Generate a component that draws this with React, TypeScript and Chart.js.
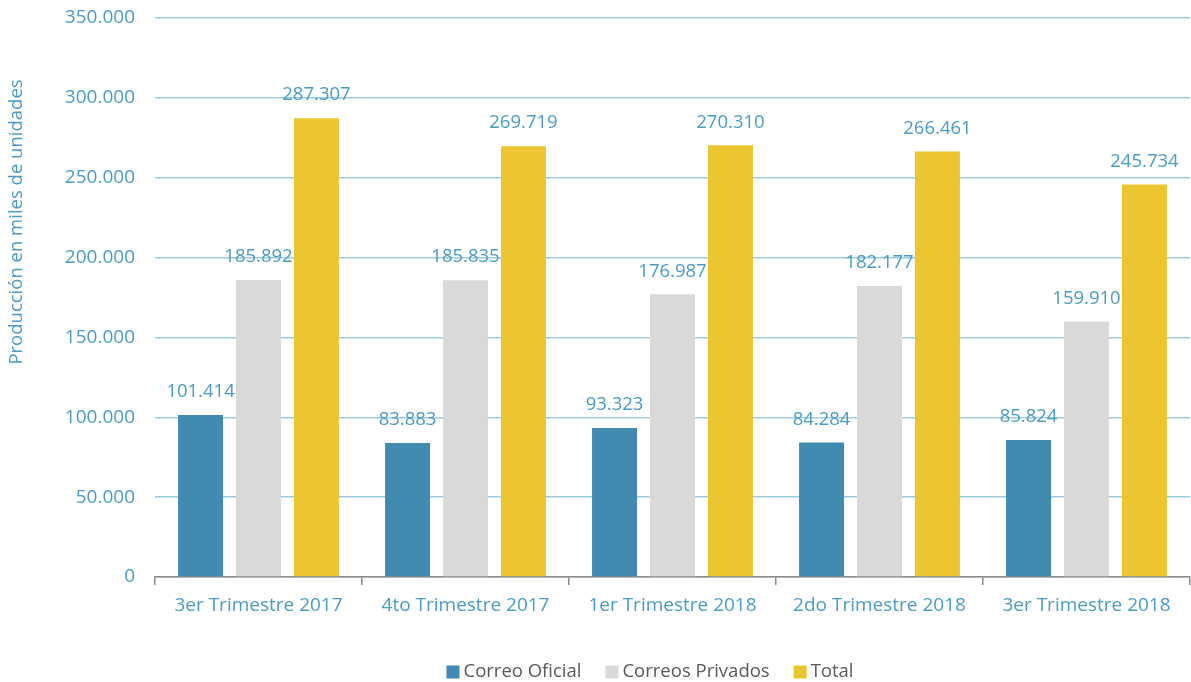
import React, { useEffect, useRef } from 'react';
import { Chart, registerables } from 'chart.js';
Chart.register(...registerables);

const categories = ['3er Trimestre 2017', '4to Trimestre 2017', '1er Trimestre 2018', '2do Trimestre 2018', '3er Trimestre 2018'];
const correoOficial = [101414, 83883, 93323, 84284, 85824];
const correosPrivados = [185892, 185835, 176987, 182177, 159910];
const total = [287307, 269719, 270310, 266461, 245734];
const seriesNames = ['Correo Oficial', 'Correos Privados', 'Total'];
const yTitle = 'Producción en miles de unidades';

const COLORS = ['#418AB0', '#D9D9D9', '#ECC630'];
const TEXT_BLUE = '#4A9CC4';
const FONT = '"Open Sans", sans-serif';

const fmt = (v: number) => String(Math.round(v)).replace(/\B(?=(\d{3})+(?!\d))/g, '.');

const labelsPlugin = {
  id: 'valueLabels',
  afterDatasetsDraw(chart: any) {
    const ctx = chart.ctx;
    ctx.save();
    ctx.font = `18.5px ${FONT}`;
    ctx.fillStyle = TEXT_BLUE;
    ctx.textAlign = 'center';
    ctx.textBaseline = 'middle';
    chart.data.datasets.forEach((ds: any, i: number) => {
      const meta = chart.getDatasetMeta(i);
      meta.data.forEach((el: any, j: number) => {
        ctx.fillText(fmt(ds.data[j]), el.x, el.y - 23);
      });
    });
    ctx.restore();
  },
};

const extrasPlugin = {
  id: 'extras',
  afterDraw(chart: any) {
    const ctx = chart.ctx;
    ctx.save();
    ctx.font = `18.5px ${FONT}`;
    ctx.fillStyle = TEXT_BLUE;
    ctx.textAlign = 'center';
    ctx.textBaseline = 'middle';
    ctx.translate(17, 222);
    ctx.rotate(-Math.PI / 2);
    ctx.fillText(yTitle, 0, 0);
    ctx.restore();

    ctx.save();
    ctx.font = `18.5px ${FONT}`;
    ctx.textBaseline = 'middle';
    ctx.textAlign = 'left';
    const box = 13, gapBox = 4, gapItem = 24;
    const widths = seriesNames.map((n) => box + gapBox + ctx.measureText(n).width);
    const totalW = widths.reduce((a, b) => a + b, 0) + gapItem * (seriesNames.length - 1);
    let x = 650 - totalW / 2;
    const y = 672;
    seriesNames.forEach((n, i) => {
      ctx.fillStyle = COLORS[i];
      ctx.fillRect(x, y - box / 2, box, box);
      ctx.fillStyle = '#595959';
      ctx.fillText(n, x + box + gapBox, y);
      x += widths[i] + gapItem;
    });
    ctx.restore();
  },
};

export default function App() {
  const ref = useRef<HTMLCanvasElement>(null);
  useEffect(() => {
    document.body.style.margin = '0';
    const series = [correoOficial, correosPrivados, total];
    const chart = new Chart(ref.current!, {
      type: 'bar',
      data: {
        labels: categories,
        datasets: series.map((d, i) => ({
          label: seriesNames[i],
          data: d,
          backgroundColor: COLORS[i],
          categoryPercentage: 0.84,
          barPercentage: 0.776,
        })),
      },
      options: {
        animation: false,
        responsive: true,
        maintainAspectRatio: false,
        layout: { padding: { top: 18, right: 1, left: 0, bottom: 0 } },
        plugins: { legend: { display: false }, tooltip: { enabled: false } },
        scales: {
          y: {
            min: 0,
            max: 350000,
            ticks: {
              stepSize: 50000,
              color: TEXT_BLUE,
              font: { family: FONT, size: 19 },
              padding: 0,
              callback: (v: any) => fmt(Number(v)),
            },
            grid: { color: '#9DCAE2', lineWidth: 1.5, drawTicks: true, tickLength: 20, tickColor: 'rgba(0,0,0,0)' },
            border: { display: false },
            afterFit: (s: any) => { s.width = 155; },
          },
          x: {
            ticks: { color: TEXT_BLUE, font: { family: FONT, size: 19 }, padding: 9 },
            grid: { drawOnChartArea: false, drawTicks: true, tickLength: 8, color: '#8C8C8C', lineWidth: 1.5 },
            border: { color: '#8C8C8C', width: 1.5 },
            afterFit: (s: any) => { s.height = 105; },
          },
        },
      },
      plugins: [labelsPlugin, extrasPlugin],
    } as any);
    return () => chart.destroy();
  }, []);
  return (
    <div style={{ width: 1191, height: 682, position: 'relative' }}>
      <canvas ref={ref} />
    </div>
  );
}
